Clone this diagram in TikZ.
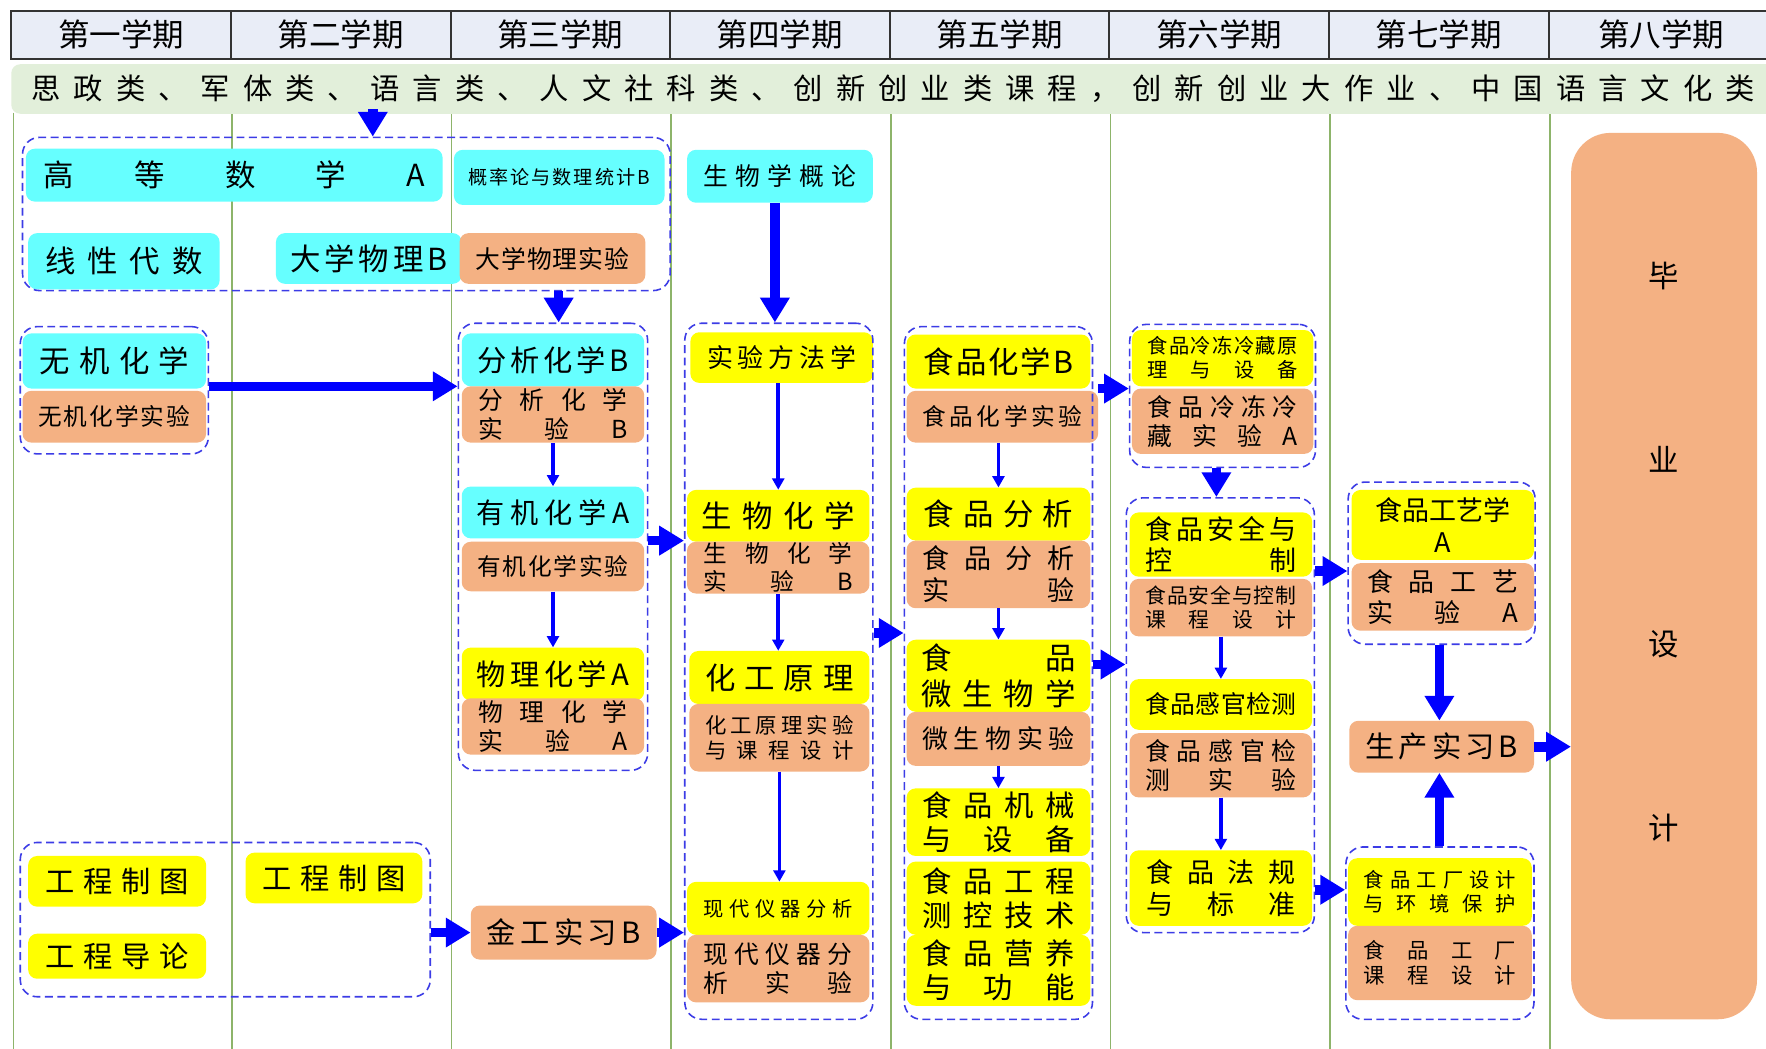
\documentclass[tikz,border=0pt]{standalone}
\usepackage{fontspec}
\setmainfont{Noto Sans CJK SC}
\usetikzlibrary{arrows.meta,calc}
\definecolor{cy}{HTML}{66FFFF}
\definecolor{ye}{HTML}{FFFF00}
\definecolor{orn}{HTML}{F4B183}
\definecolor{bandc}{HTML}{E2EFDA}
\definecolor{hdrc}{HTML}{E9EDF7}
\definecolor{vl}{HTML}{8DB46A}
\definecolor{dashc}{HTML}{3C3CE6}
\definecolor{arr}{HTML}{0000FF}
\makeatletter
\def\sprd#1{\sprd@a#1\sprd@end}
\def\sprd@a#1{#1\sprd@b}
\def\sprd@b#1{\ifx#1\sprd@end\else\nobreak\hfill#1\expandafter\sprd@b\fi}
\def\sprd@end{\relax}
\makeatother
\newcommand\cbox[9]{%
  \pgfmathsetmacro\bcx{(#2+#4)/2}%
  \pgfmathsetmacro\bcy{(#3+#5)/2}%
  \pgfmathsetmacro\bw{#4-#2}%
  \pgfmathsetmacro\bh{#5-#3}%
  \pgfmathsetmacro\btw{#4-#2-2*#8}%
  \pgfmathsetmacro\bls{#7*1.18}%
  \node[#6,minimum width=\bw pt,minimum height=\bh pt,text width=\btw pt,font=\fontsize{#7}{\bls}\selectfont] (#1) at (\bcx,\bcy) {#9};}
\newcommand\gbox[5]{%
  \pgfmathsetmacro\bcx{(#2+#4)/2}%
  \pgfmathsetmacro\bcy{(#3+#5)/2}%
  \pgfmathsetmacro\bw{#4-#2}%
  \pgfmathsetmacro\bh{#5-#3}%
  \node[grp,minimum width=\bw pt,minimum height=\bh pt] (#1) at (\bcx,\bcy) {};}
\tikzset{
  box/.style={rounded corners=8pt, inner sep=0pt, align=center, text=black},
  cyb/.style={box, fill=cy},
  yeb/.style={box, fill=ye},
  orb/.style={box, fill=orn},
  grp/.style={draw=dashc, dash pattern=on 7pt off 4pt, line width=1.4pt, rounded corners=15pt, inner sep=0pt},
  thk/.style={draw=arr, line width=8.5pt, -{Triangle[length=22pt,width=25pt]}},
  thn/.style={draw=arr, line width=3.3pt, -{Triangle[length=10pt,width=10.5pt]}},
  hcell/.style={draw=black!80, line width=1.8pt, fill=hdrc, minimum height=42pt, inner sep=0pt, font=\fontsize{28}{32}\selectfont},
}
\begin{document}
\begin{tikzpicture}[x=1pt,y=-1pt]
\useasboundingbox (0,0) rectangle (1568,931);
\fill[white] (0,0) rectangle (1568,931);
% vertical column lines
\foreach \x in {12,206,401,596,791,986,1181,1376}
  \draw[vl, line width=1.5pt] (\x,100) -- (\x,931);
% header
\node[hcell, minimum width=195pt] (h1) at (107.5,31) {第一学期};
\node[hcell, minimum width=195pt] (h2) at (302.5,31) {第二学期};
\node[hcell, minimum width=195pt] (h3) at (497.5,31) {第三学期};
\node[hcell, minimum width=195pt] (h4) at (692.5,31) {第四学期};
\node[hcell, minimum width=195pt] (h5) at (887.5,31) {第五学期};
\node[hcell, minimum width=195pt] (h6) at (1082.5,31) {第六学期};
\node[hcell, minimum width=195pt] (h7) at (1277.5,31) {第七学期};
\node[hcell, minimum width=200pt] (h8) at (1475,31) {第八学期};
% band
\node[fill=bandc, rounded corners=8pt, inner sep=0pt, minimum width=1566pt, minimum height=44pt, text width=1530pt, align=center, font=\fontsize{26}{30}\selectfont] (band) at (793,79) {\sprd{思政类、军体类、语言类、人文社科类、创新创业类课程，创新创业大作业、中国语言文化类}};
% boxes
\cbox{gaoshu}{23}{132}{393}{179}{cyb}{27}{16}{\sprd{高等数学A}}
\cbox{gailv}{403}{133}{590}{182}{cyb}{17}{13}{\sprd{概率论与数理统计B}}
\cbox{xianxing}{25}{207}{195}{257}{cyb}{27}{15}{\sprd{线性代数}}
\cbox{daxue}{245}{207}{410}{252}{cyb}{27}{13}{\sprd{大学物理B}}
\cbox{daxueshy}{408}{207}{573}{252}{orb}{22}{14}{\sprd{大学物理实验}}
\cbox{wuji}{20}{296}{183}{345}{cyb}{27}{15}{\sprd{无机化学}}
\cbox{wujishy}{20}{347}{183}{393}{orb}{21}{14}{\sprd{无机化学实验}}
\cbox{fenxi}{410}{296}{572}{343}{cyb}{26}{14}{\sprd{分析化学B}}
\cbox{fenxishy}{410}{343}{572}{393}{orb}{22}{15}{\sprd{分析化学}\\\sprd{实验B}}
\cbox{youji}{410}{432}{572}{478}{cyb}{25}{13}{\sprd{有机化学A}}
\cbox{youjishy}{410}{481}{572}{525}{orb}{21}{14}{\sprd{有机化学实验}}
\cbox{wuhua}{410}{575}{572}{622}{yeb}{26}{13}{\sprd{物理化学A}}
\cbox{wuhuashy}{410}{620}{572}{670}{orb}{22}{15}{\sprd{物理化学}\\\sprd{实验A}}
\cbox{shengwu}{610}{133}{775}{180}{cyb}{22}{15}{\sprd{生物学概论}}
\cbox{shiyan}{613}{295}{775}{340}{yeb}{23}{15}{\sprd{实验方法学}}
\cbox{shenghua}{610}{435}{772}{481}{yeb}{27}{13}{\sprd{生物化学}}
\cbox{shenghuashy}{610}{481}{772}{527}{orb}{21}{15}{\sprd{生物化学}\\\sprd{实验B}}
\cbox{huagong}{612}{578}{772}{625}{yeb}{27}{14}{\sprd{化工原理}}
\cbox{huagongshy}{612}{625}{772}{685}{orb}{19}{14}{\sprd{化工原理实验}\\\sprd{与课程设计}}
\cbox{xiandaiyq}{610}{783}{772}{830}{yeb}{18}{15}{\sprd{现代仪器分析}}
\cbox{xiandaiyqshy}{610}{830}{772}{890}{orb}{22}{15}{\sprd{现代仪器分}\\\sprd{析实验}}
\cbox{shihua}{805}{297}{968}{345}{yeb}{27}{15}{\sprd{食品化学B}}
\cbox{shihuashy}{805}{347}{975}{393}{orb}{21}{14}{\sprd{食品化学实验}}
\cbox{fenxi5}{805}{433}{968}{480}{yeb}{27}{15}{\sprd{食品分析}}
\cbox{fenxi5shy}{805}{480}{968}{540}{orb}{24}{14}{\sprd{食品分析}\\\sprd{实验}}
\cbox{weisw}{805}{568}{968}{632}{yeb}{27}{13}{\sprd{食品}\\\sprd{微生物学}}
\cbox{weiswshy}{805}{632}{968}{680}{orb}{23}{14}{\sprd{微生物实验}}
\cbox{jixie}{805}{700}{968}{760}{yeb}{26}{14}{\sprd{食品机械}\\\sprd{与设备}}
\cbox{cekong}{805}{765}{968}{830}{yeb}{26}{14}{\sprd{食品工程}\\\sprd{测控技术}}
\cbox{yingyang}{805}{830}{968}{893}{yeb}{26}{14}{\sprd{食品营养}\\\sprd{与功能}}
\cbox{lengdong}{1005}{293}{1166}{343}{yeb}{18}{14}{\sprd{食品冷冻冷藏原}\\\sprd{理与设备}}
\cbox{lengdongshy}{1005}{345}{1166}{403}{orb}{22}{14}{\sprd{食品冷冻冷}\\\sprd{藏实验A}}
\cbox{anquan}{1003}{455}{1165}{512}{yeb}{24}{14}{\sprd{食品安全与}\\\sprd{控制}}
\cbox{anquanshy}{1003}{514}{1165}{565}{orb}{18.5}{14}{\sprd{食品安全与控制}\\\sprd{课程设计}}
\cbox{ganguan}{1003}{603}{1165}{648}{yeb}{22}{14}{\sprd{食品感官检测}}
\cbox{ganguanshy}{1003}{651}{1165}{708}{orb}{22}{14}{\sprd{食品感官检}\\\sprd{测实验}}
\cbox{fagui}{1003}{755}{1165}{822}{yeb}{24}{15}{\sprd{食品法规}\\\sprd{与标准}}
\cbox{gongyi}{1200}{435}{1362}{497}{yeb}{24}{14}{食品工艺学\\A}
\cbox{gongyishy}{1200}{500}{1362}{560}{orb}{23}{14}{\sprd{食品工艺}\\\sprd{实验A}}
\cbox{shengchan}{1198}{640}{1362}{686}{orb}{26}{14}{\sprd{生产实习B}}
\cbox{gongchang}{1197}{762}{1360}{822}{yeb}{18}{14}{\sprd{食品工厂设计}\\\sprd{与环境保护}}
\cbox{gongchangshy}{1197}{822}{1360}{888}{orb}{19}{14}{\sprd{食品工厂}\\\sprd{课程设计}}
\cbox{zhitu1}{25}{760}{183}{805}{yeb}{26}{15}{\sprd{工程制图}}
\cbox{zhitu2}{218}{757}{375}{802}{yeb}{26}{15}{\sprd{工程制图}}
\cbox{daolun}{25}{829}{183}{869}{yeb}{26}{15}{\sprd{工程导论}}
\cbox{jingong}{418}{804}{583}{852}{orb}{26}{14}{\sprd{金工实习B}}
% graduation design
\node[fill=orn, rounded corners=35pt, inner sep=0pt, minimum width=165pt, minimum height=787pt] (biye) at (1477.5,511.5) {};
\node[inner sep=0pt, align=center, font=\fontsize{27}{163.3}\selectfont] (biyet) at (1477.5,490) {毕\\业\\设\\计};
% groups
\gbox{g1}{20}{122}{595}{258}
\gbox{gwuji}{18}{290}{185}{403}
\gbox{gfenxi}{407}{287}{575}{684}
\gbox{gbio}{608}{287}{775}{905}
\gbox{gfood}{803}{290}{970}{905}
\gbox{gcold}{1003}{288}{1168}{415}
\gbox{gsafe}{1000}{442}{1167}{828}
\gbox{gtech}{1197}{428}{1363}{572}
\gbox{gfactory}{1195}{752}{1362}{905}
\gbox{gdraw}{18}{748}{382}{885}
% arrow positions
\coordinate (xA1) at (331,0);
\coordinate (xA2) at (496,0);
\coordinate (yA3) at (0,343);
\coordinate (yA4) at (0,480);
\coordinate (xA5) at (688,0);
\coordinate (yA6) at (0,562);
\coordinate (yA7) at (0,345);
\coordinate (yA8) at (0,590);
\coordinate (xA9) at (1080,0);
\coordinate (yA10) at (0,507);
\coordinate (yA11) at (0,790);
\coordinate (xA12) at (1278,0);
% thick arrows
\draw[thk] ([yshift=4pt]band.south -| xA1) -- (g1.north -| xA1);
\draw[thk] (g1.south -| xA2) -- (gfenxi.north -| xA2);
\draw[thk, line width=8pt] (gwuji.east |- yA3) -- (gfenxi.west |- yA3);
\draw[thk] (gfenxi.east |- yA4) -- (gbio.west |- yA4);
\draw[thk] (shengwu.south -| xA5) -- (gbio.north -| xA5);
\draw[thk] (gbio.east |- yA6) -- (gfood.west |- yA6);
\draw[thk] (shihuashy.east |- yA7) -- (gcold.west |- yA7);
\draw[thk] (gfood.east |- yA8) -- (gsafe.west |- yA8);
\draw[thk] (gcold.south -| xA9) -- (gsafe.north -| xA9);
\draw[thk] (gsafe.east |- yA10) -- (gtech.west |- yA10);
\draw[thk] (gsafe.east |- yA11) -- (gfactory.west |- yA11);
\draw[thk] (gtech.south -| xA12) -- (shengchan.north -| xA12);
\draw[thk] (gfactory.north -| xA12) -- (shengchan.south -| xA12);
\draw[thk] (shengchan.east) -- (biye.west |- shengchan.east);
\draw[thk] (gdraw.east |- jingong.west) -- (jingong.west);
\draw[thk] (jingong.east) -- (gbio.west |- jingong.east);
% thin arrows
\draw[thn] (fenxishy.south) -- (youji.north);
\draw[thn] (youjishy.south) -- (wuhua.north);
\draw[thn] (shiyan.south -| shenghua.north) -- (shenghua.north);
\draw[thn] (shenghuashy.south) -- (huagong.north -| shenghuashy.south);
\draw[thn] (huagongshy.south) -- (xiandaiyq.north -| huagongshy.south);
\draw[thn] (shihuashy.south -| fenxi5.north) -- (fenxi5.north);
\draw[thn] (fenxi5shy.south) -- (weisw.north);
\draw[thn] (weiswshy.south) -- (jixie.north);
\draw[thn] (anquanshy.south) -- (ganguan.north);
\draw[thn] (ganguanshy.south) -- (fagui.north);
\end{tikzpicture}
\end{document}
